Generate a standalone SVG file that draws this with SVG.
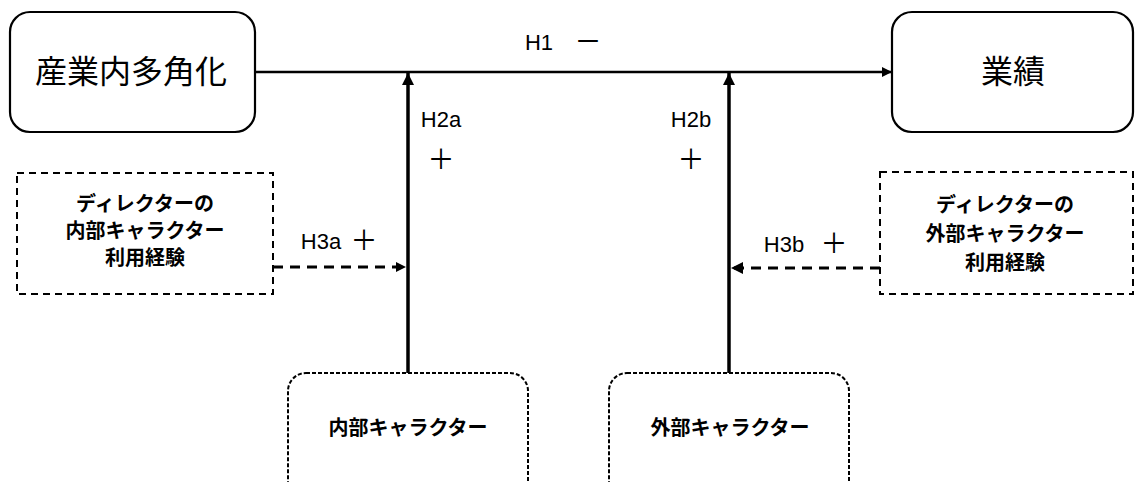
<svg xmlns="http://www.w3.org/2000/svg" width="1135" height="482" viewBox="0 0 1135 482">
<style>
text{font-family:"Liberation Sans","Noto Sans CJK JP",sans-serif;fill:#000;text-anchor:middle;dominant-baseline:central}
.big{font-size:32px}
.mid{font-size:20px;font-weight:bold}
.lbl{font-size:22px}
.sym{font-size:27px}
.solid{fill:#fff;stroke:#000;stroke-width:2.2}
.dash{fill:#fff;stroke:#000;stroke-width:2;stroke-dasharray:7 5}
.dot{fill:#fff;stroke:#000;stroke-width:2;stroke-dasharray:4 2}
.ln{stroke:#000;stroke-width:2.5;fill:none}
.vln{stroke:#000;stroke-width:3.5;fill:none}
.dln{stroke:#000;stroke-width:3;fill:none;stroke-dasharray:10 7}
</style>
<defs>
<marker id="ah" viewBox="0 0 10 10" refX="10" refY="5" markerWidth="10" markerHeight="10" markerUnits="userSpaceOnUse" orient="auto">
<path d="M0,0 L10,5 L0,10 Z" fill="#000"/>
</marker>
<marker id="ah2" viewBox="0 0 10 10" refX="10" refY="5" markerWidth="12" markerHeight="12" markerUnits="userSpaceOnUse" orient="auto">
<path d="M0,0 L10,5 L0,10 Z" fill="#000"/>
</marker>
</defs>
<g id="connectors">
<line class="ln" x1="255" y1="72" x2="892" y2="72" marker-end="url(#ah)"/>
<line class="vln" x1="408" y1="373" x2="408" y2="73" marker-end="url(#ah2)"/>
<line class="vln" x1="729" y1="373" x2="729" y2="73" marker-end="url(#ah2)"/>
<line class="dln" x1="273" y1="267" x2="406" y2="267" marker-end="url(#ah)"/>
<line class="dln" x1="880" y1="268" x2="731" y2="268" marker-end="url(#ah2)"/>
<text class="lbl" x="539" y="42">H1</text>
<text class="sym" x="588" y="42">－</text>
<text class="lbl" x="441" y="119">H2a</text>
<text class="sym" x="441" y="160">＋</text>
<text class="lbl" x="691" y="119">H2b</text>
<text class="sym" x="691" y="160">＋</text>
<text class="lbl" x="321" y="241">H3a</text>
<text class="sym" x="364" y="241">＋</text>
<text class="lbl" x="784" y="244">H3b</text>
<text class="sym" x="834" y="244">＋</text>
</g>
<g id="node-diversification">
<rect class="solid" x="10" y="12" width="245" height="120" rx="20"/>
<text class="big" x="131" y="72">産業内多角化</text>
</g>
<g id="node-performance">
<rect class="solid" x="892" y="12" width="241" height="120" rx="20"/>
<text class="big" x="1013" y="72">業績</text>
</g>
<g id="node-internal-experience">
<rect class="dash" x="17" y="173" width="256" height="121"/>
<text class="mid" x="145" y="204">ディレクターの</text>
<text class="mid" x="145" y="231">内部キャラクター</text>
<text class="mid" x="145" y="258">利用経験</text>
</g>
<g id="node-external-experience">
<rect class="dash" x="880" y="172" width="253" height="122"/>
<text class="mid" x="1005" y="205">ディレクターの</text>
<text class="mid" x="1005" y="234">外部キャラクター</text>
<text class="mid" x="1005" y="263">利用経験</text>
</g>
<g id="node-internal-character">
<rect class="dot" x="288" y="373" width="240" height="140" rx="18"/>
<text class="mid" x="408" y="428">内部キャラクター</text>
</g>
<g id="node-external-character">
<rect class="dot" x="609" y="373" width="240" height="140" rx="18"/>
<text class="mid" x="730" y="428">外部キャラクター</text>
</g>
</svg>
